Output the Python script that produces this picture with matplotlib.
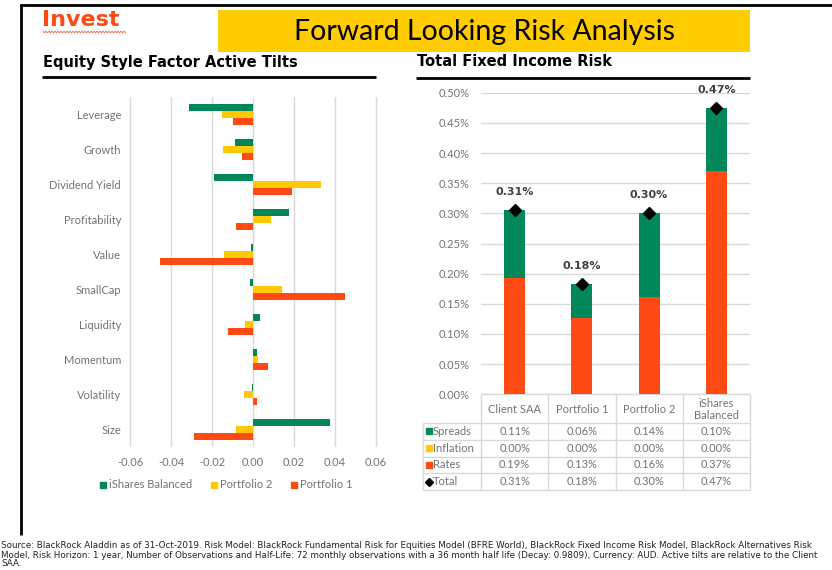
import numpy as np
import matplotlib
matplotlib.use("Agg")
import matplotlib.pyplot as plt
from matplotlib.patches import Rectangle
from matplotlib.lines import Line2D
from matplotlib.transforms import blended_transform_factory

# ---------------- data ----------------
factors = ["Leverage", "Growth", "Dividend Yield", "Profitability", "Value",
           "SmallCap", "Liquidity", "Momentum", "Volatility", "Size"]
ishares_tilt = [-0.031, -0.009, -0.0188, 0.0178, -0.0008, -0.0015, 0.0036, 0.002, -0.0005, 0.0375]
portfolio2_tilt = [-0.0152, -0.0147, 0.0331, 0.009, -0.0142, 0.0142, -0.0038, 0.0025, -0.0046, -0.0084]
portfolio1_tilt = [-0.010, -0.0053, 0.0189, -0.0082, -0.0454, 0.0448, -0.012, 0.0071, 0.002, -0.0288]
tilt_ticks = [-0.06, -0.04, -0.02, 0.00, 0.02, 0.04, 0.06]
tilt_tick_labels = ["-0.06", "-0.04", "-0.02", "0.00", "0.02", "0.04", "0.06"]
tilt_series = ["iShares Balanced", "Portfolio 2", "Portfolio 1"]

portfolios = ["Client SAA", "Portfolio 1", "Portfolio 2", "iShares\nBalanced"]
spreads = [0.114, 0.056, 0.139, 0.104]
inflation = [0.0, 0.0, 0.0, 0.0]
rates = [0.192, 0.127, 0.161, 0.370]
risk_rows = ["Spreads", "Inflation", "Rates", "Total"]
risk_ticks = [0.00, 0.05, 0.10, 0.15, 0.20, 0.25, 0.30, 0.35, 0.40, 0.45, 0.50]

source_lines = [
    "Source: BlackRock Aladdin as of 31-Oct-2019. Risk Model: BlackRock Fundamental Risk for Equities Model (BFRE World), BlackRock Fixed Income Risk Model, BlackRock Alternatives Risk",
    "Model, Risk Horizon: 1 year, Number of Observations and Half-Life: 72 monthly observations with a 36 month half life (Decay: 0.9809), Currency: AUD. Active tilts are relative to the Client",
    "SAA.",
]

# ---------------- style ----------------
GREEN = "#00875A"
YELLOW = "#FFC800"
RED = "#FF4A14"
GRAY = "#737373"
GRID = "#d9d9d9"
BODY = "Lato"
FS = 8

W, H = 832, 570
fig = plt.figure(figsize=(W / 100, H / 100), dpi=100)


def fx(x):
    return x / W


def fy(y):
    return 1 - y / H


# overlay in pixel coordinates (y downwards)
ov = fig.add_axes([0, 0, 1, 1])
ov.set_xlim(0, W)
ov.set_ylim(H, 0)
ov.axis("off")
ov.patch.set_alpha(0)

# frame
ov.plot([20, W], [5, 5], color="black", lw=2, solid_capstyle="butt")
ov.plot([21, 21], [4, 535], color="black", lw=2, solid_capstyle="butt")

# Invest + squiggle
ov.text(42, 20.5, "Invest", color=RED, fontsize=16, fontweight="bold",
        family="DejaVu Sans", va="center", ha="left")
sq_x = np.arange(43, 126, 1.5)
sq_y = 32 + np.where(np.arange(len(sq_x)) % 2 == 0, -0.8, 0.8)
ov.plot(sq_x, sq_y, color="#F0603A", lw=0.6)

# yellow title box
ov.add_patch(Rectangle((218, 10), 532, 41.7, color="#FFCC00", lw=0))
ov.text(485, 32, "Forward Looking Risk Analysis", fontsize=20.5, family=BODY,
        color="black", ha="center", va="center")

# section titles
ov.text(43, 62, "Equity Style Factor Active Tilts", fontsize=10.5, fontweight="bold",
        family="DejaVu Sans", ha="left", va="center")
ov.plot([42, 376], [77, 77], color="black", lw=2, solid_capstyle="butt")
ov.text(417, 62, "Total Fixed Income Risk", fontsize=10.5, fontweight="bold",
        family="DejaVu Sans", ha="left", va="center")
ov.plot([416, 750], [77.5, 77.5], color="black", lw=2, solid_capstyle="butt")

# ---------------- left chart ----------------
axL = fig.add_axes([fx(128), fy(447), (378 - 128) / W, 350 / H])
y = np.arange(len(factors))
bh = 0.2
for off, vals, col in zip([-bh, 0, bh], [ishares_tilt, portfolio2_tilt, portfolio1_tilt],
                          [GREEN, YELLOW, RED]):
    axL.barh(y + off, vals, height=bh, color=col, zorder=3)
axL.set_ylim(len(factors) - 0.5, -0.5)
axL.set_xlim(-0.061, 0.061)
axL.set_xticks(tilt_ticks)
axL.set_xticklabels(tilt_tick_labels)
axL.set_yticks(y)
axL.set_yticklabels(factors)
axL.tick_params(axis="both", length=0, colors=GRAY, labelsize=FS)
axL.tick_params(axis="x", pad=7)
axL.tick_params(axis="y", pad=5)
for lab in axL.get_xticklabels() + axL.get_yticklabels():
    lab.set_family(BODY)
axL.grid(axis="x", color=GRID, lw=1)
axL.grid(axis="y", visible=False)
axL.set_axisbelow(True)
for s in axL.spines.values():
    s.set_visible(False)
axL.patch.set_alpha(0)

handles = [Line2D([], [], marker="s", ls="none", color=c, ms=4.5) for c in [GREEN, YELLOW, RED]]
fig.legend(handles, tilt_series, loc="center", bbox_to_anchor=(fx(225), fy(485)),
           ncol=3, frameon=False, handletextpad=0.1, columnspacing=1.4,
           handlelength=1.0, labelcolor=GRAY, prop={"family": BODY, "size": FS})

# ---------------- right chart ----------------
axR = fig.add_axes([fx(481), fy(394.3), 269 / W, (394.3 - 92.7) / H])
x = np.arange(len(portfolios))
rates_a = np.array(rates)
infl_a = np.array(inflation)
spr_a = np.array(spreads)
totals = rates_a + infl_a + spr_a
bw = 0.31
axR.bar(x, rates_a, width=bw, color=RED, zorder=3)
axR.bar(x, infl_a, width=bw, bottom=rates_a, color=YELLOW, zorder=3)
axR.bar(x, spr_a, width=bw, bottom=rates_a + infl_a, color=GREEN, zorder=3)
axR.plot(x, totals, ls="none", marker="D", ms=6.5, color="black", zorder=5, clip_on=False)
for xi, t in zip(x, totals):
    axR.annotate(f"{t:.2f}%", (xi, t), xytext=(0, 13), textcoords="offset points",
                 ha="center", va="center", fontsize=8, fontweight="bold",
                 color="#404040", family="DejaVu Sans", annotation_clip=False)
axR.set_xlim(-0.5, len(portfolios) - 0.5)
axR.set_ylim(0, 0.5)
axR.set_yticks(risk_ticks)
axR.set_yticklabels([f"{v:.2f}%" for v in risk_ticks])
axR.set_xticks([])
axR.tick_params(axis="y", length=0, colors=GRAY, labelsize=FS, pad=8)
for lab in axR.get_yticklabels():
    lab.set_family(BODY)
axR.grid(axis="y", color=GRID, lw=1)
axR.set_axisbelow(True)
for s in axR.spines.values():
    s.set_visible(False)
axR.patch.set_alpha(0)

# ---------------- table under right chart ----------------
tr = blended_transform_factory(axR.transData, ov.transData)
top = 394.3
head_bot = 423.0
row_h = 16.75
row_edges = [head_bot + i * row_h for i in range(len(risk_rows) + 1)]
col_edges = np.arange(len(portfolios) + 1) - 0.5
tbl_kw = dict(color=GRID, lw=1, solid_capstyle="butt")
for ce in col_edges:
    ov.plot([ce, ce], [top, row_edges[-1]], transform=tr, **tbl_kw)
ov.plot([423, 423], [row_edges[0], row_edges[-1]], **tbl_kw)
ov.plot([col_edges[0], col_edges[-1]], [top, top], transform=tr, **tbl_kw)
for re in row_edges:
    ov.plot([col_edges[0], col_edges[-1]], [re, re], transform=tr, **tbl_kw)
    ov.plot([423, 481], [re, re], **tbl_kw)
for xi, name in zip(x, portfolios):
    ov.text(xi, (top + head_bot) / 2 + 0.5, name, transform=tr, ha="center", va="center",
            fontsize=FS, color=GRAY, family=BODY, linespacing=1.1)
row_vals = [spr_a, infl_a, rates_a, totals]
row_cols = [GREEN, YELLOW, RED, "black"]
row_marks = ["s", "s", "s", "D"]
for i, (rname, vals, col, mk) in enumerate(zip(risk_rows, row_vals, row_cols, row_marks)):
    yc = row_edges[i] + row_h / 2
    ov.plot([428.5], [yc], marker=mk, ls="none", color=col, ms=4 if mk == "s" else 3.8)
    ov.text(433, yc, rname, ha="left", va="center", fontsize=FS, color=GRAY, family=BODY)
    for xi, v in zip(x, vals):
        ov.text(xi, yc, f"{v:.2f}%", transform=tr, ha="center", va="center",
                fontsize=FS, color=GRAY, family=BODY)

# ---------------- source text ----------------
for yy, line in zip([546, 555, 564], source_lines):
    ov.text(1, yy, line, ha="left", va="center", fontsize=6.35, color="#222222",
            family=["Liberation Sans Narrow", "DejaVu Sans"], clip_on=False)

fig.savefig("out.png", dpi=100)
